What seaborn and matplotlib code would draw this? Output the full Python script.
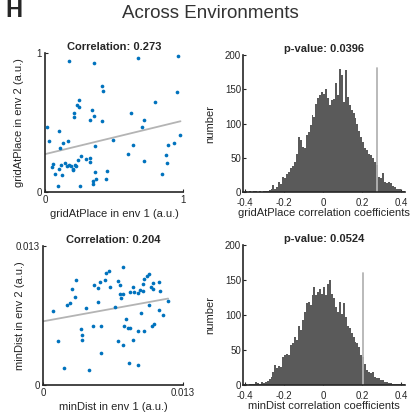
import numpy as np
import pandas as pd
import matplotlib
matplotlib.use("Agg")
import matplotlib.pyplot as plt
import seaborn as sns

# scatter data: gridAtPlace (a.u.)
grid_env1 = [0.176, 0.357, 0.674, 0.961, 0.411, 0.418, 0.957, 0.244, 0.234, 0.249,
             0.797, 0.338, 0.208, 0.208, 0.355, 0.326, 0.411, 0.626, 0.717, 0.705,
             0.014, 0.104, 0.031, 0.128, 0.167, 0.490, 0.981, 0.109, 0.365, 0.894,
             0.935, 0.638, 0.601, 0.874, 0.882, 0.717, 0.263, 0.237, 0.297, 0.326,
             0.324, 0.056, 0.048, 0.118, 0.145, 0.157, 0.174, 0.186, 0.215, 0.225,
             0.200, 0.205, 0.099, 0.075, 0.123, 0.365, 0.449, 0.370, 0.442, 0.345,
             0.350, 0.848, 0.097, 0.254]
grid_env2 = [0.940, 0.926, 0.964, 0.976, 0.767, 0.731, 0.722, 0.664, 0.624, 0.614,
             0.647, 0.590, 0.571, 0.542, 0.547, 0.518, 0.511, 0.571, 0.518, 0.465,
             0.465, 0.439, 0.365, 0.350, 0.369, 0.377, 0.412, 0.314, 0.333, 0.336,
             0.355, 0.336, 0.276, 0.264, 0.211, 0.221, 0.261, 0.233, 0.240, 0.247,
             0.218, 0.206, 0.182, 0.197, 0.211, 0.185, 0.192, 0.189, 0.192, 0.185,
             0.168, 0.158, 0.163, 0.134, 0.122, 0.146, 0.149, 0.091, 0.096, 0.077,
             0.062, 0.129, 0.046, 0.041]

# scatter data: minDist (a.u.)
mind_env1 = [0.00742, 0.00610, 0.00582, 0.00307, 0.00529, 0.00576, 0.00699, 0.00477, 0.00715, 0.00625,
             0.00507, 0.00273, 0.00832, 0.00928, 0.00966, 0.00988, 0.00935, 0.01022, 0.01078, 0.01000,
             0.01022, 0.00897, 0.00932, 0.00848, 0.00883, 0.00807, 0.00746, 0.00712, 0.00728, 0.01083,
             0.00294, 0.00254, 0.00220, 0.00514, 0.00984, 0.01161, 0.00090, 0.00397, 0.00668, 0.01074,
             0.01112, 0.00907, 0.00771, 0.00753, 0.00789, 0.00811, 0.00468, 0.00542, 0.00356, 0.00885,
             0.00935, 0.01013, 0.01034, 0.00365, 0.00359, 0.00143, 0.00836, 0.00697, 0.00742, 0.00538,
             0.00798, 0.00883, 0.00198, 0.00430]
mind_env2 = [0.01106, 0.01066, 0.01050, 0.00985, 0.00966, 0.00979, 0.00970, 0.00935, 0.00932, 0.00919,
             0.00904, 0.00901, 0.00917, 0.00941, 0.01023, 0.01035, 0.00988, 0.00954, 0.00963, 0.00917,
             0.00901, 0.00894, 0.00883, 0.00870, 0.00861, 0.00867, 0.00854, 0.00852, 0.00810, 0.00879,
             0.00823, 0.00767, 0.00745, 0.00776, 0.00745, 0.00785, 0.00696, 0.00718, 0.00727, 0.00705,
             0.00658, 0.00671, 0.00614, 0.00551, 0.00530, 0.00530, 0.00555, 0.00555, 0.00527, 0.00502,
             0.00508, 0.00555, 0.00567, 0.00464, 0.00421, 0.00412, 0.00424, 0.00415, 0.00371, 0.00299,
             0.00209, 0.00190, 0.00156, 0.00140]

# shuffled correlation histograms, bins of 0.01 from -0.42 to 0.42
bin_edges = np.round(np.linspace(-0.42, 0.42, 85), 2)
grid_counts = [0, 0, 1, 0, 1, 0, 1, 1, 0, 1,
               0, 1, 1, 2, 3, 4, 10, 5, 8, 15,
               12, 22, 20, 27, 30, 35, 38, 44, 55, 81,
               76, 66, 64, 83, 88, 98, 112, 110, 129, 137,
               142, 146, 143, 150, 138, 127, 134, 136, 159, 142,
               180, 171, 132, 178, 139, 127, 120, 115, 108, 100,
               90, 80, 73, 65, 61, 56, 54, 50, 44, 39,
               22, 20, 28, 15, 14, 15, 13, 9, 8, 5,
               4, 5, 2, 1]
mind_counts = [0, 1, 1, 0, 1, 2, 1, 5, 3, 2,
               5, 3, 4, 6, 9, 12, 19, 29, 25, 27,
               26, 40, 43, 44, 43, 57, 60, 69, 65, 84,
               79, 93, 105, 117, 119, 115, 129, 140, 129, 133,
               138, 131, 140, 129, 145, 150, 131, 124, 112, 105,
               119, 102, 117, 97, 85, 81, 74, 69, 62, 60,
               55, 43, 40, 30, 21, 19, 18, 19, 12, 10,
               10, 7, 7, 5, 5, 3, 3, 2, 2, 1,
               2, 1, 2, 1]

grid_r, grid_p = 0.273, 0.0396
mind_r, mind_p = 0.204, 0.0524
grid_line_top = 182
mind_line_top = 160

sns.set_style("ticks")
plt.rcParams['font.family'] = ['Liberation Sans', 'DejaVu Sans']
plt.rcParams['axes.linewidth'] = 1.2
plt.rcParams['xtick.direction'] = 'in'
plt.rcParams['ytick.direction'] = 'in'

dot_color = '#0072BD'
line_color = '#b4b4b4'
bar_color = '#5a5a5a'

fig = plt.figure(figsize=(4.2, 4.15), dpi=100)
ax_s1 = fig.add_axes([0.107, 0.537, 0.329, 0.335])
ax_h1 = fig.add_axes([0.579, 0.537, 0.386, 0.330])
ax_s2 = fig.add_axes([0.102, 0.072, 0.334, 0.335])
ax_h2 = fig.add_axes([0.579, 0.072, 0.386, 0.337])


def scatter_panel(ax, x, y, lim, ticklabels, name, r, ylab_x):
    df = pd.DataFrame({'x': x, 'y': y})
    sns.scatterplot(data=df, x='x', y='y', ax=ax, color=dot_color, s=7,
                    linewidth=0, zorder=3)
    slope, icpt = np.polyfit(df['x'], df['y'], 1)
    xs = np.array([0, df['x'].max()])
    ax.plot(xs, icpt + slope * xs, color=line_color, lw=1.3, zorder=2)
    ax.set_xlim(0, lim)
    ax.set_ylim(0, lim)
    ax.set_xticks([0, lim])
    ax.set_yticks([0, lim])
    ax.set_xticklabels(ticklabels)
    ax.set_yticklabels(ticklabels)
    ax.set_xlabel(f"{name} in env 1 (a.u.)", fontsize=8, labelpad=3)
    ax.set_ylabel(f"{name} in env 2 (a.u.)", fontsize=8)
    ax.yaxis.set_label_coords(ylab_x, 0.5)
    ax.set_title(f"Correlation: {r:.3f}", fontsize=8, fontweight='bold', pad=2)
    ax.tick_params(labelsize=7, length=2, pad=2)
    sns.despine(ax=ax)


def hist_panel(ax, counts, name, r, p, line_top):
    centers = (bin_edges[:-1] + bin_edges[1:]) / 2
    hist_df = pd.DataFrame({'r': centers, 'n': counts})
    sns.histplot(data=hist_df, x='r', weights='n', binwidth=0.01,
                 binrange=(-0.42, 0.42), ax=ax, color=bar_color, alpha=1,
                 linewidth=0)
    ax.plot([r, r], [0, line_top], color=line_color, lw=1.3)
    ax.set_xlim(-0.41, 0.42)
    ax.set_ylim(0, 200)
    ax.set_xticks([-0.4, -0.2, 0, 0.2, 0.4])
    ax.set_xticklabels(['-0.4', '-0.2', '0', '0.2', '0.4'])
    ax.set_yticks([0, 50, 100, 150, 200])
    ax.set_xlabel(f"{name} correlation coefficients", fontsize=8, labelpad=0)
    ax.set_ylabel("number", fontsize=8)
    ax.yaxis.set_label_coords(-0.175, 0.5)
    ax.set_title(f"p-value: {p:.4f}", fontsize=8, fontweight='bold', pad=2)
    ax.tick_params(labelsize=7, length=2)
    ax.tick_params(axis='x', pad=4)
    ax.tick_params(axis='y', pad=1.5)
    sns.despine(ax=ax)


scatter_panel(ax_s1, grid_env1, grid_env2, 1, ['0', '1'], 'gridAtPlace', grid_r, -0.15)
scatter_panel(ax_s2, mind_env1, mind_env2, 0.013, ['0', '0.013'], 'minDist', mind_r, -0.13)
hist_panel(ax_h1, grid_counts, 'gridAtPlace', grid_r, grid_p, grid_line_top)
hist_panel(ax_h2, mind_counts, 'minDist', mind_r, mind_p, mind_line_top)

fig.text(0.5, 0.968, "Across Environments", ha='center', va='center',
         fontsize=13.5, color='#333333')
fig.text(0.012, 0.958, "H", ha='left', va='baseline', fontsize=17,
         fontweight='bold')

fig.savefig("out.png", dpi=100)
